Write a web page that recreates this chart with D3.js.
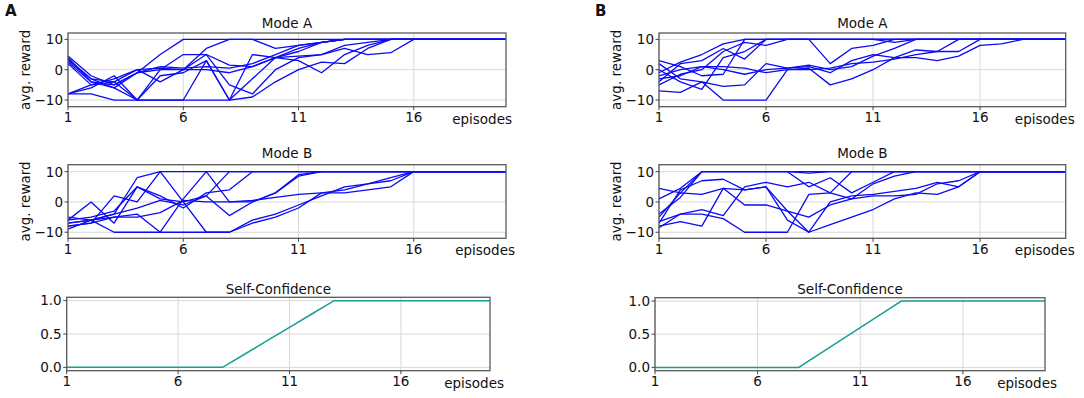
<!DOCTYPE html>
<html>
<head>
<meta charset="utf-8">
<script src="https://cdn.jsdelivr.net/npm/d3@7"></script>
<style>
  body { margin:0; background:#fff; }
  text { font-family: "DejaVu Sans", sans-serif; }
</style>
</head>
<body>
<div id="content"></div>
<script>
// episodes 1..20
const episodes = d3.range(1, 21);
const xTicks = [1, 6, 11, 16];
const rewardTicks = [-10, 0, 10];
const confTicks = [0.0, 0.5, 1.0];

// Panel A, Mode A (avg. reward per run)
const rewardA_modeA = [
  [4.5, -2, -5, -1, 5, 10, 10, 10, 10, 10, 10, 10, 10, 10, 10, 10, 10, 10, 10, 10],
  [3, -3, -6, -10, -2, -1, 3, -10, -3, 4, 7, 9, 10, 10, 10, 10, 10, 10, 10, 10],
  [2.5, -4, -5, -1, 1, 0.5, 1, 0.5, 2, 5, 8, 9, 10, 10, 10, 10, 10, 10, 10, 10],
  [2, -5, -3, 0, 0.5, 0, 0, -1, 1, 4, 6, 9, 10, 10, 10, 10, 10, 10, 10, 10],
  [-8, -8, -10, -10, -10, -10, -10, -10, -9, -4, 0, 2.5, 2, 7, 10, 10, 10, 10, 10, 10],
  [-8, -5, -4, -10, 0, 0, 7, 10, 10, 7, 8, 9, 10, 10, 10, 10, 10, 10, 10, 10],
  [3.5, -3, -4, 0, -4, 0, 5, -5, -8, 0, 4, 5, 7, 5, 5.6, 10, 10, 10, 10, 10],
  [-8, -6, -2, -10, -10, -10, 3, -10, 5, 4, 3, -1, 5, 8, 10, 10, 10, 10, 10, 10],
  [4, -4, -6, -1, 0, 5, 5, 1.5, 1, 4, 4.5, 5, 8, 9, 10, 10, 10, 10, 10, 10]
];

// Panel A, Mode B
const rewardA_modeB = [
  [-5, -6, -4, 8, 10, 10, 10, 10, 10, 10, 10, 10, 10, 10, 10, 10, 10, 10, 10, 10],
  [-6, 0, -7, 5, 2, -2, 3, 4, 10, 10, 10, 10, 10, 10, 10, 10, 10, 10, 10, 10],
  [-7, -6, -10, -10, -10, -10, -10, -10, -7, -5, -2, 3, 4, 6, 7, 10, 10, 10, 10, 10],
  [-8, -7, 2, 0, 10, 0, -10, -10, -6, -4, -1, 2, 5, 6, 8, 10, 10, 10, 10, 10],
  [-9, -6, -5, -4, -10, 1, 10, 0, 0, 3, 9, 10, 10, 10, 10, 10, 10, 10, 10, 10],
  [-6, -5, -3, 5, 1, 0, 2, -4.5, 0, 3, 8.5, 10, 10, 10, 10, 10, 10, 10, 10, 10],
  [-8, -7, -5, -5, -3.5, 0.5, 0, 0, 0.5, 1.5, 2.5, 3, 3, 4, 5, 10, 10, 10, 10, 10],
  [-7, -6, -4, -2, 0.5, -1, 2, 10, 10, 10, 10, 10, 10, 10, 10, 10, 10, 10, 10, 10]
];

// Panel B, Mode A
const rewardB_modeA = [
  [3, 1, -2, -1.5, 10, 10, 10, 10, 10, 10, 10, 10, 10, 10, 10, 10, 10, 10, 10, 10],
  [-1, 2.5, 5, 8.5, 10, 10, 10, 10, 10, 10, 10, 10, 10, 10, 10, 10, 10, 10, 10, 10],
  [-4, 2, 3, 7, 3.5, 10, 10, 10, 2, 7, 8, 10, 10, 10, 10, 10, 10, 10, 10, 10],
  [-5, -1.5, 0, 6, 9, 8, 10, 10, 10, 10, 10, 9, 10, 10, 10, 10, 10, 10, 10, 10],
  [-7, -7.5, -4, -5.5, -5, 2, 0.5, 1.5, 0, 1, 4.5, 7, 10, 10, 10, 10, 10, 10, 10, 10],
  [0, -4, -6.5, 4, 6, 10, 10, 10, 10, 10, 10, 10, 10, 10, 10, 10, 10, 10, 10, 10],
  [2, -3, -4, -10, -10, -10, 0, 0.5, -5, -3, 0, 4, 4, 3, 4.5, 8, 8.5, 10, 10, 10],
  [-3, -2, 1, 1, 0.5, -1, 0, 0, 0.5, 2, 2.5, 3.5, 5, 6, 6, 10, 10, 10, 10, 10],
  [-2, 0, 1, 0, -1.5, 0, 0.5, 1, -1, 3, 5, 4, 6.5, 6, 10, 10, 10, 10, 10, 10]
];

// Panel B, Mode B
const rewardB_modeB = [
  [4.5, 3, 10, 10, 10, 10, 10, 10, 10, 10, 10, 10, 10, 10, 10, 10, 10, 10, 10, 10],
  [1, 4.5, 10, 10, 10, 10, 10, 9.5, 10, 10, 10, 10, 10, 10, 10, 10, 10, 10, 10, 10],
  [-4, 1.5, 10, 10, 10, 10, 10, 5, 8, 3, 6.5, 10, 10, 10, 10, 10, 10, 10, 10, 10],
  [-6.5, -4, -2.5, -4.5, 5, 6.5, 5, 6.5, 3, 10, 10, 10, 10, 10, 10, 10, 10, 10, 10, 10],
  [-7, 4, 7, 7.5, 4, 5, -3, -10, 0, 2, 2.5, 3.5, 4.5, 6.5, 5, 10, 10, 10, 10, 10],
  [-8, -6.5, -8, 4.5, 4, 5, -6, -10, -7.5, -5, -2.5, 1, 3, 2.5, 5, 10, 10, 10, 10, 10],
  [-8.5, -4, -4, -5.5, -10, -10, -10, 2.5, 3, 1, 2, 2, 2.5, 6, 7, 10, 10, 10, 10, 10],
  [-5, 3, 2.5, 4.5, -1, -1, -3, -5, -1, 1, 6, 8.5, 10, 10, 10, 10, 10, 10, 10, 10]
];

// self-confidence
const confidenceA = [0, 0, 0, 0, 0, 0, 0, 0, 0.2, 0.4, 0.6, 0.8, 1, 1, 1, 1, 1, 1, 1, 1];
const confidenceB = [0, 0, 0, 0, 0, 0, 0, 0, 0.2, 0.4, 0.6, 0.8, 1, 1, 1, 1, 1, 1, 1, 1];

const W = 1084, H = 398;
const FS = 13.5;

const svg = d3.select("#content")
    .append("svg")
    .attr("width", W)
    .attr("height", H);

svg.append("rect").attr("width", W).attr("height", H).attr("fill", "#fff");

// layout of the 6 subplots
const plots = [
  {letter:"A", lx:5,   title:"Mode A", runs:rewardA_modeA, x0:68,  x1:506,  top:33,    bottom:106.7, yDom:[-12.2,12.1], ticks:rewardTicks, ylab:true, epOff:6, titleOff:5},
  {            title:"Mode B", runs:rewardA_modeB, x0:68,  x1:506,  top:164.7, bottom:238.3, yDom:[-12.0,12.3], ticks:rewardTicks, ylab:true, epOff:9, titleOff:6.5},
  {            title:"Self-Confidence", conf:confidenceA, x0:66.7, x1:490, top:297.3, bottom:370.7, yDom:[-0.05,1.05], ticks:confTicks, ylab:false, epOff:14, titleOff:3.5},
  {letter:"B", lx:595, title:"Mode A", runs:rewardB_modeA, x0:659, x1:1065.7, top:33,  bottom:106.7, yDom:[-12.2,12.1], ticks:rewardTicks, ylab:true, epOff:9, titleOff:5},
  {            title:"Mode B", runs:rewardB_modeB, x0:659, x1:1065.7, top:164.7, bottom:238.3, yDom:[-12.0,12.3], ticks:rewardTicks, ylab:true, epOff:9, titleOff:6.5},
  {            title:"Self-Confidence", conf:confidenceB, x0:655, x1:1045, top:297.7, bottom:370.7, yDom:[-0.05,1.05], ticks:confTicks, ylab:false, epOff:12, titleOff:3.5}
];

for (const p of plots) {
    const x = d3.scaleLinear().domain([1, 20]).range([p.x0, p.x1]);
    const y = d3.scaleLinear().domain(p.yDom).range([p.bottom, p.top]);
    const g = svg.append("g");

    // grid
    g.selectAll(".gx").data(xTicks).enter().append("line")
        .attr("x1", d => x(d)).attr("x2", d => x(d))
        .attr("y1", p.top).attr("y2", p.bottom)
        .attr("stroke", "#d8d8d8").attr("stroke-width", 1);
    g.selectAll(".gy").data(p.ticks).enter().append("line")
        .attr("x1", p.x0).attr("x2", p.x1)
        .attr("y1", d => y(d)).attr("y2", d => y(d))
        .attr("stroke", "#d8d8d8").attr("stroke-width", 1);

    const line = d3.line()
        .x((d, i) => x(episodes[i]))
        .y(d => y(d));

    if (p.runs) {
        g.selectAll(".run").data(p.runs).enter().append("path")
            .attr("fill", "none")
            .attr("stroke", "#0a0af5")
            .attr("stroke-width", 1.3)
            .attr("stroke-linejoin", "round")
            .attr("d", line);
    } else {
        g.append("path")
            .attr("fill", "none")
            .attr("stroke", "#1a9e92")
            .attr("stroke-width", 1.5)
            .attr("d", line(p.conf));
    }

    // frame
    g.append("rect")
        .attr("x", p.x0).attr("y", p.top)
        .attr("width", p.x1 - p.x0).attr("height", p.bottom - p.top)
        .attr("fill", "none").attr("stroke", "#5a5a5a").attr("stroke-width", 1.3);

    // x ticks
    g.selectAll(".tx").data(xTicks).enter().append("line")
        .attr("x1", d => x(d)).attr("x2", d => x(d))
        .attr("y1", p.bottom).attr("y2", p.bottom + 3.5)
        .attr("stroke", "#444");
    g.selectAll(".lx").data(xTicks).enter().append("text")
        .attr("x", d => x(d)).attr("y", p.bottom + 15.5)
        .attr("text-anchor", "middle").attr("font-size", FS).attr("fill", "#111")
        .text(d => d);

    // y ticks
    g.selectAll(".ty").data(p.ticks).enter().append("line")
        .attr("x1", p.x0 - 3.5).attr("x2", p.x0)
        .attr("y1", d => y(d)).attr("y2", d => y(d))
        .attr("stroke", "#444");
    g.selectAll(".ly").data(p.ticks).enter().append("text")
        .attr("x", p.x0 - 5).attr("y", d => y(d)).attr("dy", "0.36em")
        .attr("text-anchor", "end").attr("font-size", FS).attr("fill", "#111")
        .text(d => p.runs ? d3.format("d")(d).replace("-", "\u2212") : d3.format(".1f")(d));

    // title
    g.append("text")
        .attr("x", (p.x0 + p.x1) / 2).attr("y", p.top - p.titleOff)
        .attr("text-anchor", "middle").attr("font-size", FS).attr("fill", "#111")
        .text(p.title);

    // x label
    g.append("text")
        .attr("x", p.x1 + p.epOff).attr("y", p.bottom + 17)
        .attr("text-anchor", "end").attr("font-size", FS).attr("fill", "#111")
        .text("episodes");

    // y label
    if (p.ylab) {
        g.append("text")
            .attr("transform", "translate(" + [p.x0 - 38, (p.top + p.bottom) / 2] + ") rotate(-90)")
            .attr("text-anchor", "middle").attr("font-size", FS).attr("fill", "#111")
            .text("avg. reward");
    }

    if (p.letter) {
        svg.append("text")
            .attr("x", p.lx).attr("y", 15.5)
            .attr("font-family", "Liberation Sans, Arial, sans-serif")
            .attr("font-weight", "bold").attr("font-size", 15).attr("fill", "#111")
            .text(p.letter);
    }
}
</script>
</body>
</html>
